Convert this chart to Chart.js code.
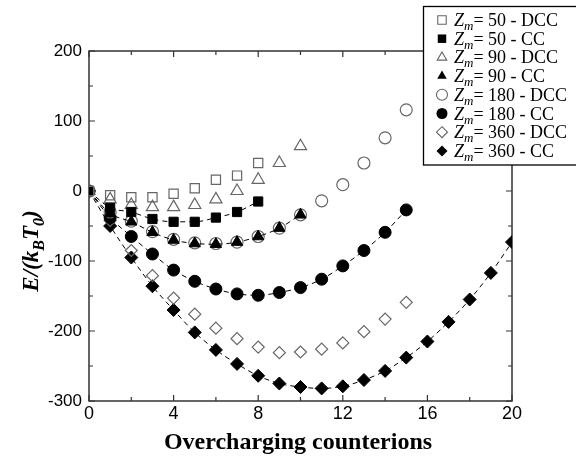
<!DOCTYPE html>
<html>
<head>
<meta charset="utf-8">
<script src="https://cdn.jsdelivr.net/npm/chart.js@4.4.1/dist/chart.umd.min.js"></script>
<style>
  html, body { margin: 0; padding: 0; background: #fff; }
</style>
</head>
<body>
<canvas id="chart" width="576" height="459"></canvas>
<script>
// energy vs number of overcharging counterions (x = 0, 1, 2, ...)
const zm50Dcc = [0, -6, -9, -9, -4, 4, 16, 22, 40];
const zm50Cc = [0, -24, -30, -40, -44, -44, -38, -30, -15];
const zm90Dcc = [0, -12, -20, -23, -23, -20, -12, 0, 16, 40, 64];
const zm90Cc = [0, -32, -44, -59, -70, -75, -76, -73, -65, -53, -34];
const zm180Dcc = [0, -30, -43, -58, -69, -74, -75, -73, -65, -53, -34, -14, 9, 40, 76, 116];
const zm180Cc = [0, -38, -65, -90, -113, -129, -140, -147, -149, -145, -138, -126, -107, -85, -59, -27];
const zm360Dcc = [0, -42, -85, -121, -153, -176, -196, -211, -223, -231, -230, -226, -217, -201, -183, -159];
const zm360Cc = [0, -50, -95, -136, -170, -202, -227, -247, -264, -275, -280, -282, -279, -270, -257, -238, -215, -187, -155, -117, -73];

const xTicks = [0, 4, 8, 12, 16, 20];
const yTicks = [-300, -200, -100, 0, 100, 200];
const legendValues = ["50", "50", "90", "90", "180", "180", "360", "360"];
const legendKinds = ["DCC", "CC", "DCC", "CC", "DCC", "CC", "DCC", "CC"];

const OPEN = "#666";

function toPoints(values) {
  return values.map((v, i) => ({ x: i, y: v }));
}

function openSeries(label, values, style, radius) {
  return {
    label: label,
    data: toPoints(values),
    showLine: false,
    pointStyle: style,
    pointRadius: radius,
    pointBackgroundColor: "rgba(0,0,0,0)",
    pointBorderColor: OPEN,
    pointBorderWidth: 1.2,
  };
}

function filledSeries(label, values, style, radius) {
  return {
    label: label,
    data: toPoints(values),
    showLine: true,
    borderColor: "#000",
    borderWidth: 1,
    borderDash: [5, 4],
    cubicInterpolationMode: "monotone",
    pointStyle: style,
    pointRadius: radius,
    pointBackgroundColor: "#000",
    pointBorderColor: "#000",
    pointBorderWidth: 1,
  };
}

const datasets = [
  openSeries("50 - DCC", zm50Dcc, "rect", 6.5),
  filledSeries("50 - CC", zm50Cc, "rect", 6.5),
  openSeries("90 - DCC", zm90Dcc, "triangle", 7),
  filledSeries("90 - CC", zm90Cc, "triangle", 6.5),
  openSeries("180 - DCC", zm180Dcc, "circle", 6),
  filledSeries("180 - CC", zm180Cc, "circle", 6),
  openSeries("360 - DCC", zm360Dcc, "rectRot", 6),
  filledSeries("360 - CC", zm360Cc, "rectRot", 6.5),
];

// small marker painter for the legend
function drawMarker(ctx, style, x, y, r, filled) {
  ctx.save();
  ctx.beginPath();
  if (style === "rect") {
    const s = r * Math.SQRT1_2;
    ctx.rect(x - s, y - s, 2 * s, 2 * s);
  } else if (style === "triangle") {
    ctx.moveTo(x, y - r);
    ctx.lineTo(x + r * 0.866, y + r * 0.5);
    ctx.lineTo(x - r * 0.866, y + r * 0.5);
    ctx.closePath();
  } else if (style === "circle") {
    ctx.arc(x, y, r, 0, Math.PI * 2);
  } else {
    ctx.moveTo(x, y - r);
    ctx.lineTo(x + r, y);
    ctx.lineTo(x, y + r);
    ctx.lineTo(x - r, y);
    ctx.closePath();
  }
  if (filled) {
    ctx.fillStyle = "#000";
    ctx.fill();
  } else {
    ctx.strokeStyle = OPEN;
    ctx.lineWidth = 1.1;
    ctx.stroke();
  }
  ctx.restore();
}

const framePlugin = {
  id: "frame",
  beforeDatasetsDraw(chart) {
    const ctx = chart.ctx;
    const a = chart.chartArea;
    const xs = chart.scales.x;
    const ys = chart.scales.y;
    ctx.save();
    ctx.strokeStyle = "#333";
    ctx.lineWidth = 1.5;
    ctx.strokeRect(a.left, a.top, a.right - a.left, a.bottom - a.top);
    ctx.lineWidth = 1.2;
    ctx.beginPath();
    for (let v = 0; v <= 20; v += 2) {
      const px = xs.getPixelForValue(v);
      const len = v % 4 === 0 ? 6 : 4;
      ctx.moveTo(px, a.bottom);
      ctx.lineTo(px, a.bottom - len);
      ctx.moveTo(px, a.top);
      ctx.lineTo(px, a.top + len);
    }
    for (let v = -300; v <= 200; v += 50) {
      const py = ys.getPixelForValue(v);
      const len = v % 100 === 0 ? 6 : 4;
      ctx.moveTo(a.left, py);
      ctx.lineTo(a.left + len, py);
      ctx.moveTo(a.right, py);
      ctx.lineTo(a.right - len, py);
    }
    ctx.stroke();
    ctx.restore();
  },
  afterDraw(chart) {
    const ctx = chart.ctx;
    ctx.save();

    // x title
    ctx.fillStyle = "#000";
    ctx.font = 'bold 24px "Liberation Serif"';
    ctx.textAlign = "center";
    ctx.textBaseline = "middle";
    ctx.fillText("Overcharging counterions", 298, 443);

    // y title with subscripts
    ctx.translate(31, 251);
    ctx.rotate(-Math.PI / 2);
    const big = 'bold italic 23px "Liberation Serif"';
    const small = 'bold italic 16px "Liberation Serif"';
    const parts = [
      ["E/(k", big, 0],
      ["B", small, 6],
      ["T", big, 0],
      ["0", small, 6],
      [")", big, 0],
    ];
    let total = 0;
    parts.forEach(p => { ctx.font = p[1]; total += ctx.measureText(p[0]).width; });
    let cx = -total / 2;
    ctx.textAlign = "left";
    ctx.textBaseline = "alphabetic";
    parts.forEach(p => {
      ctx.font = p[1];
      ctx.fillText(p[0], cx, 7 + p[2]);
      cx += ctx.measureText(p[0]).width;
    });
    ctx.restore();

    // legend box
    ctx.save();
    ctx.fillStyle = "#fff";
    ctx.fillRect(423, 6, 160, 159);
    ctx.strokeStyle = "#000";
    ctx.lineWidth = 1.3;
    ctx.strokeRect(423.5, 6.5, 160, 158.5);
    ctx.textBaseline = "alphabetic";
    ctx.textAlign = "left";
    ctx.fillStyle = "#000";
    datasets.forEach((ds, i) => {
      const y = 20 + i * 18.7;
      const filled = legendKinds[i] === "CC";
      drawMarker(ctx, ds.pointStyle, 442, y, ds.pointStyle === "rect" ? 6 : 5.5, filled);
      let x = 454;
      ctx.font = 'italic 18px "Liberation Serif"';
      ctx.fillText("Z", x, y + 6);
      x += ctx.measureText("Z").width;
      ctx.font = 'italic 13px "Liberation Serif"';
      ctx.fillText("m", x, y + 10);
      x += ctx.measureText("m").width;
      ctx.font = '18px "Liberation Serif"';
      ctx.fillText("= " + legendValues[i] + " - " + legendKinds[i], x, y + 6);
    });
    ctx.restore();
  },
};

new Chart(document.getElementById("chart").getContext("2d"), {
  type: "line",
  data: { datasets: datasets },
  options: {
    responsive: false,
    animation: false,
    layout: { padding: { left: 0, top: 51, right: 64, bottom: 0 } },
    plugins: { legend: { display: false }, tooltip: { enabled: false } },
    scales: {
      x: {
        type: "linear",
        min: 0,
        max: 20,
        afterBuildTicks: s => { s.ticks = xTicks.map(v => ({ value: v })); },
        afterFit: s => { s.height = 58; },
        grid: { display: false, drawTicks: false },
        border: { display: false },
        ticks: { color: "#000", padding: 2, font: { family: '"Liberation Sans", Arial', size: 18 } },
      },
      y: {
        type: "linear",
        min: -300,
        max: 200,
        afterBuildTicks: s => { s.ticks = yTicks.map(v => ({ value: v })); },
        afterFit: s => { s.width = 89; },
        grid: { display: false, drawTicks: false },
        border: { display: false },
        ticks: { color: "#000", padding: 7, font: { family: '"Liberation Sans", Arial', size: 17 } },
      },
    },
  },
  plugins: [framePlugin],
});
</script>
</body>
</html>
